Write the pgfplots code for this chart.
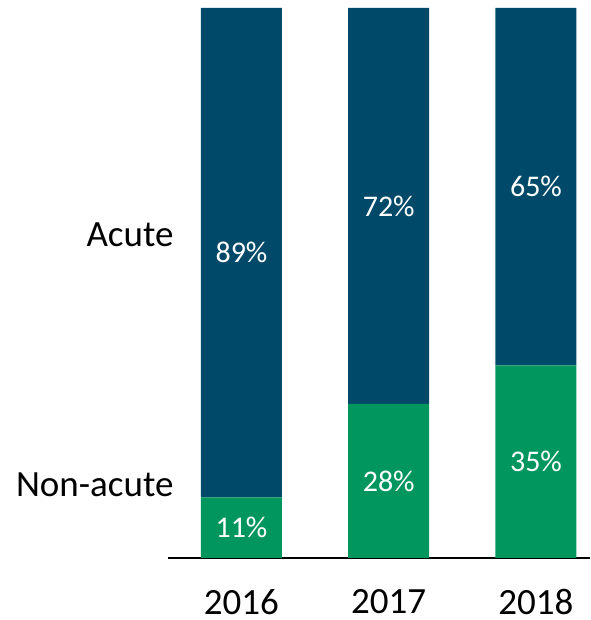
\documentclass[border=0pt]{standalone}
\usepackage{pgfplots}
\pgfplotsset{compat=1.18}
\usepackage{fontspec}
\setmainfont{Carlito}

\definecolor{acute}{RGB}{1,73,104}
\definecolor{nonacute}{RGB}{0,150,94}

\begin{document}
\begin{tikzpicture}
\useasboundingbox (0,0) rectangle (590pt,620pt);
\begin{axis}[
    at={(168pt,62pt)}, anchor=south west,
    scale only axis, width=422pt, height=550pt,
    ybar stacked, bar width=81pt,
    xmin=-0.499, xmax=2.367, ymin=0, ymax=100,
    axis x line*=bottom, axis y line=none,
    x axis line style={black, line width=1.3pt, -},
    xtick={0,1,2}, xticklabels={2016,2017,2018},
    major tick length=0pt,
    /pgf/number format/assume math mode=true,
    xticklabel style={anchor=north, inner sep=0pt, yshift=-31pt,
        font=\fontsize{37}{40}\selectfont},
    ]
\addplot[fill=nonacute, draw=none] coordinates {(0,11) (1,28) (2,35)};
\addplot[fill=acute, draw=none] coordinates {(0,89) (1,72) (2,65)};
\coordinate (n0) at (axis cs:0,5.5);
\coordinate (n1) at (axis cs:1,14);
\coordinate (n2) at (axis cs:2,17.5);
\coordinate (a0) at (axis cs:0,55.5);
\coordinate (a1) at (axis cs:1,64);
\coordinate (a2) at (axis cs:2,67.5);
\end{axis}
\begin{scope}[every node/.style={white, font=\fontsize{30}{34}\selectfont}]
\node at (n0) {11\%};
\node at (n1) {28\%};
\node at (n2) {35\%};
\node at (a0) {89\%};
\node at (a1) {72\%};
\node at (a2) {65\%};
\end{scope}
\node[anchor=base east, font=\fontsize{37}{40}\selectfont] at (177pt,373pt) {Acute};
\node[anchor=base east, font=\fontsize{37}{40}\selectfont] at (177pt,123pt) {Non-acute};
\end{tikzpicture}
\end{document}
